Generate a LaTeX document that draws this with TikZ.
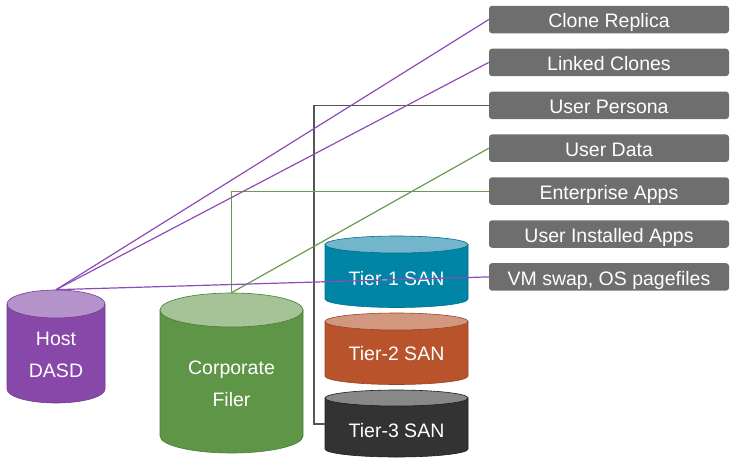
\documentclass[tikz,border=0pt]{standalone}
\usepackage{fontspec}
\setmainfont{Liberation Sans}
\usetikzlibrary{positioning, shapes.geometric}

\definecolor{tagfill}{HTML}{6E6E6E}
\definecolor{dasdbody}{HTML}{8748A9}
\definecolor{dasdtop}{HTML}{B393C9}
\definecolor{dasdedge}{HTML}{713A8F}
\definecolor{filerbody}{HTML}{5F9547}
\definecolor{filertop}{HTML}{A6C397}
\definecolor{fileredge}{HTML}{4B7A37}
\definecolor{tieronebody}{HTML}{0085A6}
\definecolor{tieronetop}{HTML}{73B5CB}
\definecolor{tieroneedge}{HTML}{006F8B}
\definecolor{tiertwobody}{HTML}{B8532B}
\definecolor{tiertwotop}{HTML}{D2977F}
\definecolor{tiertwoedge}{HTML}{9A4322}
\definecolor{tierthreebody}{HTML}{333333}
\definecolor{tierthreetop}{HTML}{888888}
\definecolor{tierthreeedge}{HTML}{1E1E1E}
\definecolor{linepurple}{HTML}{8E4BB8}
\definecolor{linegreen}{HTML}{6A9A50}
\definecolor{linegray}{HTML}{555555}

\begin{document}
\begin{tikzpicture}[
      x=1pt, y=-1pt,
      node distance=15pt,
      tag/.style={fill=tagfill, rounded corners=3pt, text=white, minimum width=240pt, minimum height=27.5pt,
        inner sep=0pt, text height=16.5pt, text depth=0pt, font=\fontsize{19.5}{22}\selectfont},
      cyltop/.style={ellipse, inner sep=0pt, line width=0.6pt},
      cyltext/.style={text=white, align=center, font=\fontsize{19.5}{32}\selectfont},
      dasdlink/.style={draw=linepurple, line width=1.2pt},
      filerlink/.style={draw=linegreen, line width=1.2pt},
      sanlink/.style={draw=linegray, line width=1.2pt}
    ]
  \useasboundingbox (0,0) rectangle (736,466);

  % data tags
  \node[tag] (clone) at (609,19.5) {Clone Replica};
  \node[tag, below=of clone] (linked) {Linked Clones};
  \node[tag, below=of linked] (persona) {User Persona};
  \node[tag, below=of persona] (userdata) {User Data};
  \node[tag, below=of userdata] (entapps) {Enterprise Apps};
  \node[tag, below=of entapps] (userapps) {User Installed Apps};
  \node[tag, below=of userapps] (vmswap) {VM swap, OS pagefiles};

  % host DASD
  \filldraw[fill=dasdbody, draw=dasdedge, line width=0.6pt] (7,304) -- (7,389)
    arc[start angle=180, end angle=360, x radius=49pt, y radius=14pt] -- (105,304) -- cycle;
  \node[cyltop, fill=dasdtop, draw=dasdedge, minimum width=98pt, minimum height=28pt] (dasd top) at (56,304) {};
  \node[cyltext] (dasd) at (56,355) {Host\\DASD};

  % corporate filer
  \filldraw[fill=filerbody, draw=fileredge, line width=0.6pt] (160,310) -- (160,436)
    arc[start angle=180, end angle=360, x radius=71.5pt, y radius=17pt] -- (303,310) -- cycle;
  \node[cyltop, fill=filertop, draw=fileredge, minimum width=143pt, minimum height=34pt] (filer top) at (231.5,310) {};
  \node[cyltext] (filer) at (231.5,384) {Corporate\\Filer};

  % SAN tiers
  \filldraw[fill=tieronebody, draw=tieroneedge, line width=0.6pt] (325,244.5) -- (325,299)
    arc[start angle=180, end angle=360, x radius=71.5pt, y radius=8.5pt] -- (468,244.5) -- cycle;
  \node[cyltop, fill=tieronetop, draw=tieroneedge, minimum width=143pt, minimum height=17pt] (tier1 top) at (396.5,244.5) {};
  \node[cyltext] (tier1) at (396.5,279) {Tier-1 SAN};

  \filldraw[fill=tiertwobody, draw=tiertwoedge, line width=0.6pt] (325,321.5) -- (325,376)
    arc[start angle=180, end angle=360, x radius=71.5pt, y radius=8.5pt] -- (468,321.5) -- cycle;
  \node[cyltop, fill=tiertwotop, draw=tiertwoedge, minimum width=143pt, minimum height=17pt] (tier2 top) at (396.5,321.5) {};
  \node[cyltext] (tier2) at (396.5,354) {Tier-2 SAN};

  \filldraw[fill=tierthreebody, draw=tierthreeedge, line width=0.6pt] (325,398) -- (325,449)
    arc[start angle=180, end angle=360, x radius=71.5pt, y radius=8pt] -- (468,398) -- cycle;
  \node[cyltop, fill=tierthreetop, draw=tierthreeedge, minimum width=143pt, minimum height=16pt] (tier3 top) at (396.5,398) {};
  \node[cyltext] (tier3) at (396.5,431) {Tier-3 SAN};
  \coordinate (tier3 side) at (325,424);

  % links
  \draw[sanlink] (tier3 side) -- ++(-11,0) |- (persona.west);
  \draw[filerlink] (filer top.north) |- (entapps.west);
  \draw[filerlink] (filer top.north) -- (userdata.west);
  \draw[dasdlink] (dasd top.north) -- (clone.west);
  \draw[dasdlink] (dasd top.north) -- (linked.west);
  \draw[dasdlink] (dasd top.north) -- (vmswap.west);

\end{tikzpicture}
\end{document}
